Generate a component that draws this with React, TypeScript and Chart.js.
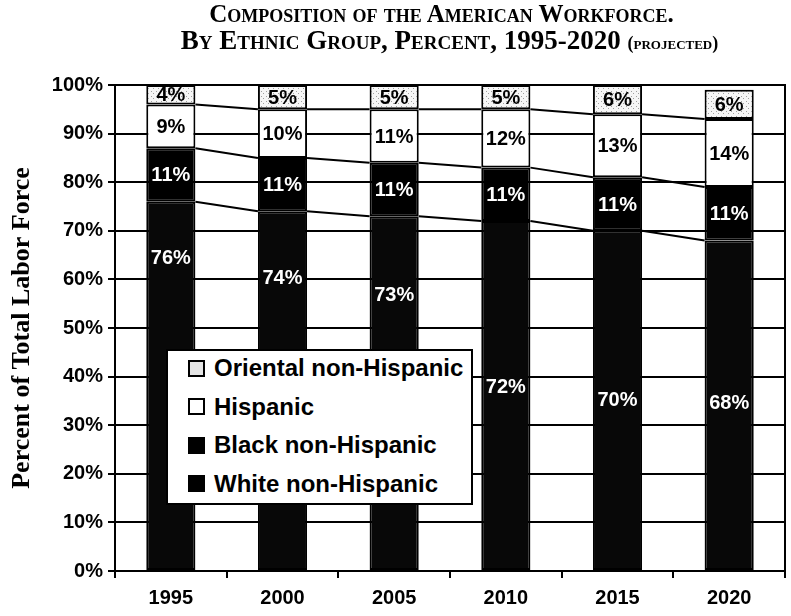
import React, { useEffect, useRef } from "react";
import { Chart, registerables } from "chart.js";

Chart.register(...registerables);

// ---- data ----
const categories = ["1995", "2000", "2005", "2010", "2015", "2020"];
const whiteNonHispanic = [76, 74, 73, 72, 70, 68];
const blackNonHispanic = [11, 11, 11, 11, 11, 11];
const hispanic = [9, 10, 11, 12, 13, 14];
const orientalNonHispanic = [4, 5, 5, 5, 6, 6];
const seriesNames = ["White non-Hispanic", "Black non-Hispanic", "Hispanic", "Oriental non-Hispanic"];
// level (in %) where the White non-Hispanic value label sits inside its bar
const whiteLabelLevel = [64.6, 60.4, 56.9, 38, 35.2, 34.6];

const SANS = '"Liberation Sans", Arial, Helvetica, sans-serif';
const SERIF = '"Liberation Serif", "Times New Roman", serif';

function makeDotPattern(): CanvasPattern | string {
  const c = document.createElement("canvas");
  c.width = 5;
  c.height = 5;
  const g = c.getContext("2d");
  if (!g) return "#eeeeee";
  g.fillStyle = "#f6f6f6";
  g.fillRect(0, 0, 5, 5);
  g.fillStyle = "#a0a0a0";
  g.fillRect(1, 1, 1, 1);
  g.fillRect(3, 3, 1, 1);
  const p = g.createPattern(c, "repeat");
  return p || "#eeeeee";
}

const seriesLinesPlugin = {
  id: "seriesLines",
  afterDatasetsDraw(chart: any) {
    const ctx = chart.ctx;
    ctx.save();
    ctx.strokeStyle = "#000";
    ctx.lineWidth = 2;
    for (let di = 0; di < 3; di++) {
      const meta = chart.getDatasetMeta(di);
      for (let i = 0; i < meta.data.length - 1; i++) {
        const a = meta.data[i];
        const b = meta.data[i + 1];
        ctx.beginPath();
        ctx.moveTo(a.x + a.width / 2, a.y);
        ctx.lineTo(b.x - b.width / 2, b.y);
        ctx.stroke();
      }
    }
    ctx.restore();
  },
};

const segLabelPlugin = {
  id: "segLabels",
  afterDatasetsDraw(chart: any) {
    const ctx = chart.ctx;
    const yScale = chart.scales.y;
    const colors = ["#fff", "#fff", "#000", "#000"];
    ctx.save();
    ctx.font = `bold 20px ${SANS}`;
    ctx.textAlign = "center";
    ctx.textBaseline = "middle";
    chart.data.datasets.forEach((ds: any, di: number) => {
      const meta = chart.getDatasetMeta(di);
      meta.data.forEach((bar: any, i: number) => {
        const cy = di === 0 ? yScale.getPixelForValue(whiteLabelLevel[i]) : (bar.y + bar.base) / 2;
        ctx.fillStyle = colors[di];
        ctx.fillText(`${ds.data[i]}%`, bar.x, cy + 1);
      });
    });
    ctx.restore();
  },
};

const rightBorderPlugin = {
  id: "rightBorder",
  afterDraw(chart: any) {
    const { ctx, chartArea } = chart;
    ctx.save();
    ctx.strokeStyle = "#000";
    ctx.lineWidth = 2;
    ctx.beginPath();
    ctx.moveTo(chartArea.right, chartArea.top - 1);
    ctx.lineTo(chartArea.right, chartArea.bottom);
    ctx.stroke();
    ctx.restore();
  },
};

const legendSwatch: Record<string, React.CSSProperties> = {
  "White non-Hispanic": { background: "#000" },
  "Black non-Hispanic": { background: "#000" },
  Hispanic: { background: "#fff" },
  "Oriental non-Hispanic": { background: "#e4e4e4" },
};

export default function App() {
  const canvasRef = useRef<HTMLCanvasElement | null>(null);

  useEffect(() => {
    document.body.style.margin = "0";
    const canvas = canvasRef.current;
    if (!canvas) return;
    const dot = makeDotPattern();
    const chart = new Chart(canvas, {
      type: "bar",
      data: {
        labels: categories,
        datasets: [
          { label: seriesNames[0], data: whiteNonHispanic, backgroundColor: "#080808" },
          { label: seriesNames[1], data: blackNonHispanic, backgroundColor: "#000" },
          { label: seriesNames[2], data: hispanic, backgroundColor: "#fff" },
          { label: seriesNames[3], data: orientalNonHispanic, backgroundColor: dot as any },
        ].map((d) => ({
          ...d,
          borderColor: "#000",
          borderWidth: 2,
          borderSkipped: false,
          categoryPercentage: 1,
          barPercentage: 0.44,
        })),
      },
      options: {
        responsive: false,
        animation: false,
        devicePixelRatio: 1,
        layout: { padding: { top: 85, right: 6, left: 0, bottom: 0 } },
        plugins: {
          legend: { display: false },
          title: { display: false },
          tooltip: { enabled: false },
        },
        scales: {
          x: {
            stacked: true,
            offset: true,
            grid: {
              display: true,
              offset: true,
              drawOnChartArea: false,
              drawTicks: true,
              tickLength: 7,
              color: "#000",
              lineWidth: 2,
            },
            border: { display: true, color: "#000", width: 2 },
            ticks: {
              color: "#000",
              padding: 8,
              font: { family: SANS, size: 20, weight: "bold" },
              maxRotation: 0,
            },
            afterFit: (s: any) => {
              s.height = 45;
            },
          },
          y: {
            stacked: true,
            min: 0,
            max: 100,
            grid: {
              color: "#000",
              lineWidth: 2,
              drawTicks: true,
              tickLength: 7,
            },
            border: { display: true, color: "#000", width: 2 },
            ticks: {
              stepSize: 10,
              color: "#000",
              padding: 5,
              font: { family: SANS, size: 20, weight: "bold" },
              callback: (v: any) => `${v}%`,
            },
            title: {
              display: true,
              text: "Percent of Total Labor Force",
              color: "#000",
              font: { family: SERIF, size: 26, weight: "bold" },
              padding: { top: 7, bottom: 0 },
            },
            afterFit: (s: any) => {
              s.width = 115;
            },
          },
        },
      },
      plugins: [seriesLinesPlugin, segLabelPlugin, rightBorderPlugin],
    });
    return () => chart.destroy();
  }, []);

  const legendOrder = [...seriesNames].reverse();

  return (
    <div style={{ position: "relative", width: 791, height: 616, background: "#fff" }}>
      <canvas ref={canvasRef} width={791} height={616} style={{ position: "absolute", left: 0, top: 0 }} />
      <div
        style={{
          position: "absolute",
          left: 100,
          top: 1,
          width: 691,
          textAlign: "center",
          fontFamily: SERIF,
          fontWeight: "bold",
          fontVariant: "small-caps",
          color: "#000",
          lineHeight: 1,
        }}
      >
        <div style={{ fontSize: 25, height: 26, lineHeight: "26px", paddingRight: 8 }}>
          Composition of the American Workforce.
        </div>
        <div style={{ fontSize: 27, height: 27, lineHeight: "27px", paddingLeft: 8 }}>
          By Ethnic Group, Percent, 1995-2020 <span style={{ fontSize: 18 }}>(projected)</span>
        </div>
      </div>
      <div
        style={{
          position: "absolute",
          left: 166,
          top: 349,
          width: 303,
          height: 152,
          border: "2px solid #000",
          background: "#fff",
          fontFamily: SANS,
          fontWeight: "bold",
          fontSize: 24,
          color: "#000",
        }}
      >
        {legendOrder.map((name, k) => (
          <div
            key={name}
            style={{
              position: "absolute",
              left: 20,
              top: 0 + k * 38.6,
              height: 34,
              display: "flex",
              alignItems: "center",
              whiteSpace: "nowrap",
            }}
          >
            <span
              style={{
                display: "inline-block",
                width: 13,
                height: 13,
                border: "2px solid #000",
                marginRight: 9,
                ...legendSwatch[name],
              }}
            />
            <span>{name}</span>
          </div>
        ))}
      </div>
    </div>
  );
}
